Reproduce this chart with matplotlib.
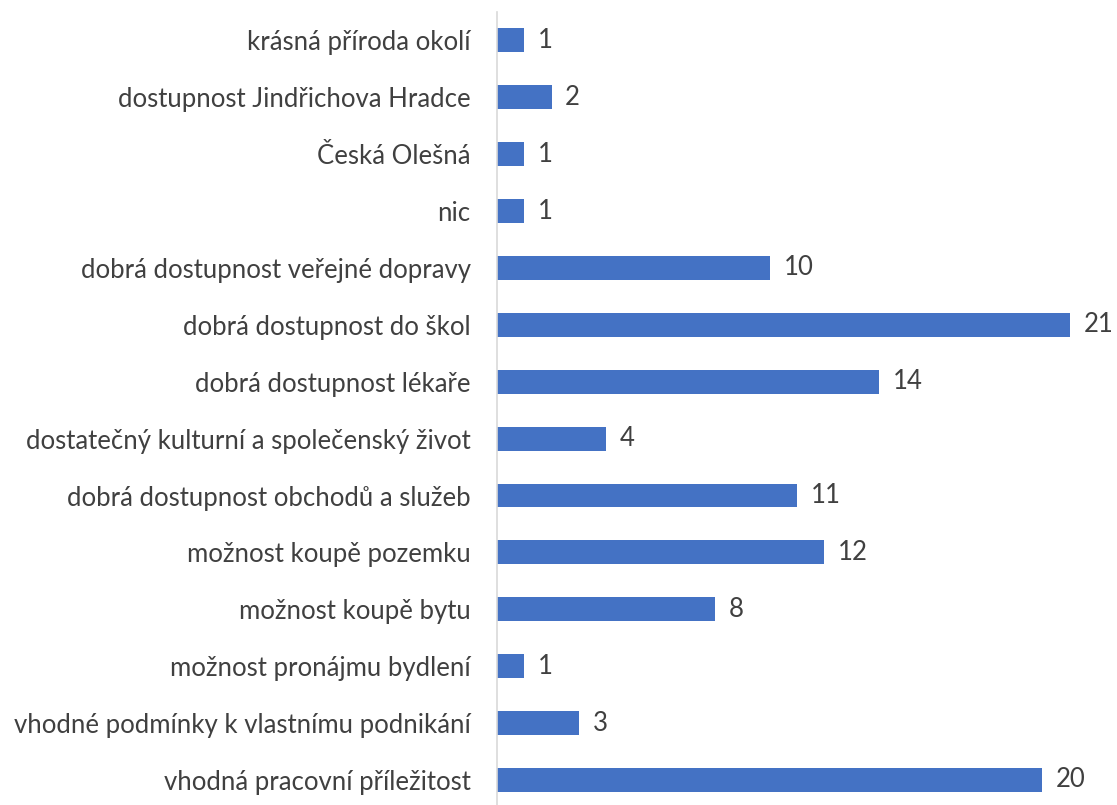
import numpy as np
import matplotlib.pyplot as plt

# kategorie odshora dolu, jak jsou v grafu
labels = ['krásná příroda okolí',
          'dostupnost Jindřichova Hradce',
          'Česká Olešná',
          'nic',
          'dobrá dostupnost veřejné dopravy',
          'dobrá dostupnost do škol',
          'dobrá dostupnost lékaře',
          'dostatečný kulturní a společenský život',
          'dobrá dostupnost obchodů a služeb',
          'možnost koupě pozemku',
          'možnost koupě bytu',
          'možnost pronájmu bydlení',
          'vhodné podmínky k vlastnímu podnikání',
          'vhodná pracovní příležitost']
counts = [1, 2, 1, 1, 10, 21, 14, 4, 11, 12, 8, 1, 3, 20]

plt.rcParams['font.family'] = ['Lato', 'DejaVu Sans']

fig = plt.figure(figsize=(11.17, 8.05), dpi=100)
ax = fig.add_axes([497/1117, 0.0, 600/1117, 793/805])

# nejvyssi pozice nahore
ypos = np.arange(len(labels))[::-1]
bars = ax.barh(ypos, counts, height=0.42, color='#4472C4')

for b, v in zip(bars, counts):
    ax.text(b.get_width() + 0.5, b.get_y() + b.get_height()/2, str(v),
            va='center', ha='left', fontsize=18.5, color='#404040')

ax.set_yticks(ypos)
ax.set_yticklabels(labels, fontsize=18.5, color='#404040')
ax.tick_params(axis='y', length=0, pad=19)
ax.set_xticks([])
ax.set_xlim(0, 22)
ax.set_ylim(-0.44, 13.5)

for s in ['top', 'right', 'bottom']:
    ax.spines[s].set_visible(False)
ax.spines['left'].set_color('#D9D9D9')
ax.spines['left'].set_linewidth(1.2)

plt.savefig('out.png', dpi=100)
